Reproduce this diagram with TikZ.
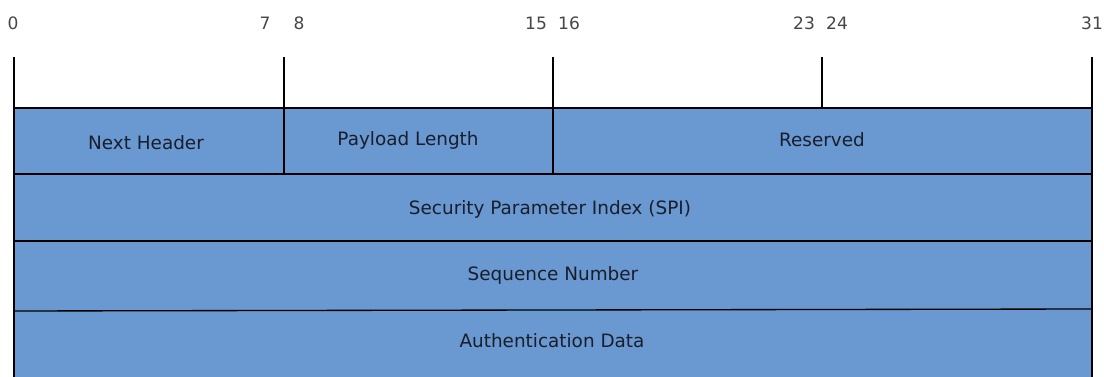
\documentclass[tikz,border=0pt]{standalone}
\usepackage{fontspec}
\setmainfont{DejaVu Sans}
\definecolor{fieldblue}{RGB}{106,152,208}
\definecolor{numgray}{RGB}{70,70,70}
\definecolor{txtdark}{RGB}{25,30,45}
\begin{document}
\begin{tikzpicture}[x=0.75pt,y=-0.75pt,
  bitlabel/.style={font=\fontsize{12.8}{15}\selectfont, text=numgray, inner sep=0pt},
  fieldtext/.style={font=\fontsize{13.8}{16}\selectfont, text=txtdark, inner sep=0pt},
  rule/.style={draw=black, line width=1.0pt}]
\useasboundingbox (0,0) rectangle (1104,377);
% fill
\fill[fieldblue] (14,108) rectangle (1092,377);
% horizontal rules
\coordinate (L0) at (14,108); \coordinate (R0) at (1092,108);
\coordinate (L1) at (14,174); \coordinate (R1) at (1092,174);
\coordinate (L2) at (14,241); \coordinate (R2) at (1092,241);
\coordinate (L3) at (14,311); \coordinate (R3) at (1092,309);
\draw[rule] (L0) -- (R0);
\draw[rule] (L1) -- (R1);
\draw[rule] (L2) -- (R2);
\draw[rule] (L3) -- (R3);
% vertical rules
\coordinate (t0) at (14,57);   \coordinate (b0) at (14,377);
\coordinate (t8) at (284,57);  \coordinate (b8) at (284,174);
\coordinate (t16) at (553,57); \coordinate (b16) at (553,174);
\coordinate (t24) at (822,57); \coordinate (b24) at (822,108);
\coordinate (t32) at (1092,57);\coordinate (b32) at (1092,377);
\draw[rule] (t0) -- (b0);
\draw[rule] (t8) -- (b8);
\draw[rule] (t16) -- (b16);
\draw[rule] (t24) -- (b24);
\draw[rule] (t32) -- (b32);
% bit labels
\node[bitlabel] (n0) at (13,23) {0};
\node[bitlabel] (n7) at (265,23) {7};
\node[bitlabel] (n8) at (299,23) {8};
\node[bitlabel] (n15) at (536,23) {15};
\node[bitlabel] (n16) at (569,23) {16};
\node[bitlabel] (n23) at (804,23) {23};
\node[bitlabel] (n24) at (837,23) {24};
\node[bitlabel] (n31) at (1092,23) {31};
% field texts
\node[fieldtext] (nh) at (146,143) {Next Header};
\node[fieldtext] (pl) at (408,140) {Payload Length};
\node[fieldtext] (rs) at (822,140) {Reserved};
\node[fieldtext] (spi) at (550,209) {Security Parameter Index (SPI)};
\node[fieldtext] (seq) at (553,275) {Sequence Number};
\node[fieldtext] (auth) at (552,341) {Authentication Data};
\end{tikzpicture}
\end{document}
